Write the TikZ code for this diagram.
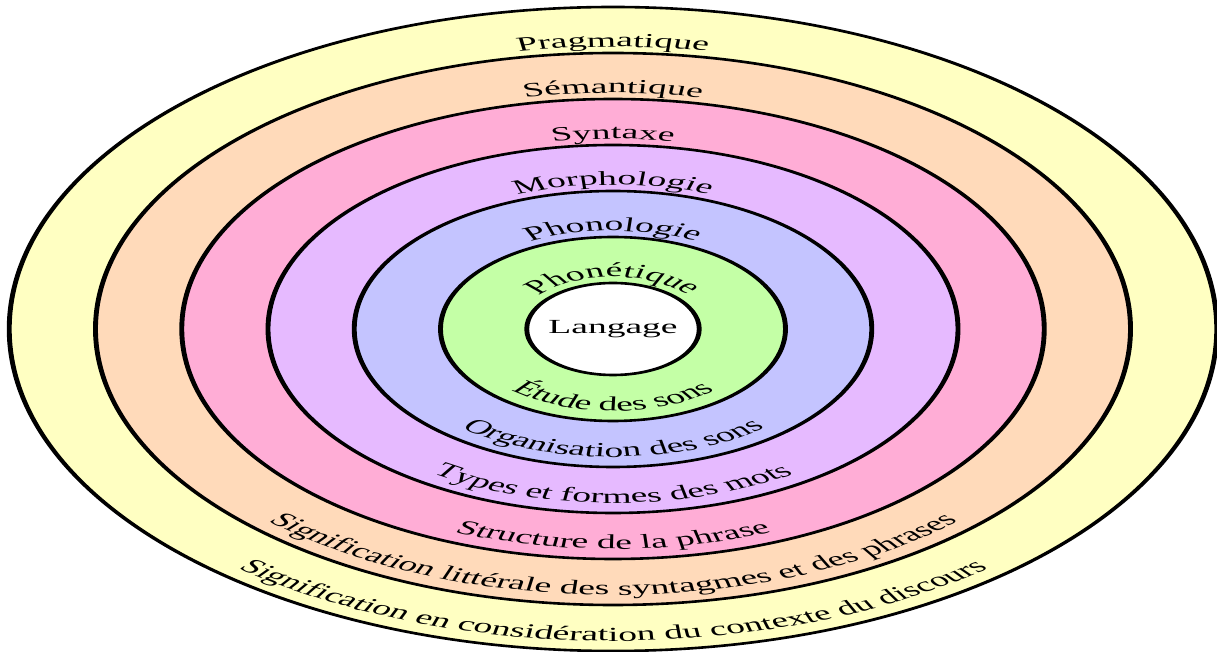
\documentclass[tikz,border=0pt]{standalone}
\usepackage{fontspec}
\setmainfont{Liberation Serif}
\usetikzlibrary{decorations.text}

\definecolor{pragmcol}{RGB}{255,255,194}
\definecolor{semancol}{RGB}{255,218,186}
\definecolor{syntcol}{RGB}{255,173,214}
\definecolor{morphcol}{RGB}{230,186,255}
\definecolor{phonolcol}{RGB}{196,196,255}
\definecolor{phonetcol}{RGB}{196,255,166}
\newcommand{\ringfont}{\fontsize{20}{22}\selectfont}

\begin{document}
\begin{tikzpicture}[x=1pt, y=1pt]
		\tikzset{
			ring/.style={
				draw=black,
				line width=2.6pt
			},
			over/.style={
				decorate,
				decoration={
					text along path,
					text align=center,
					text={|\ringfont|#1}
				}
			},
			under/.style={
				decorate,
				decoration={
					text along path,
					text align=center,
					text={|\ringfont|#1}
				}
			}
		}

		\fill[white] (-613,-323) rectangle (604,329);
		\useasboundingbox (-613,-323) rectangle (604,329);

		\begin{scope}[transform canvas={xscale=1.875}]
		\draw[ring, fill=pragmcol] (0,0) circle[radius=322];
		\draw[ring, fill=semancol] (0,0) circle[radius=276];
		\draw[ring, fill=syntcol] (0,0) circle[radius=230];
		\draw[ring, fill=morphcol] (0,0) circle[radius=184];
		\draw[ring, fill=phonolcol] (0,0) circle[radius=138];
		\draw[ring, fill=phonetcol] (0,0) circle[radius=92];
		\draw[ring, fill=white] (0,0) circle[radius=46];

		\node[inner sep=0pt] (langage) at (0,0)
			{\ringfont Langage};

		\path[over=Pragmatique] (180:282) arc[start angle=180, end angle=0, radius=282];
		\path[over=Sémantique] (180:236) arc[start angle=180, end angle=0, radius=236];
		\path[over=Syntaxe] (180:190) arc[start angle=180, end angle=0, radius=190];
		\path[over=Morphologie] (180:144) arc[start angle=180, end angle=0, radius=144];
		\path[over=Phonologie] (180:98) arc[start angle=180, end angle=0, radius=98];
		\path[over=Phonétique] (180:52) arc[start angle=180, end angle=0, radius=52];

		\path[under=Étude des sons] (180:82) arc[start angle=180, end angle=360, radius=82];
		\path[under=Organisation des sons] (180:128) arc[start angle=180, end angle=360, radius=128];
		\path[under=Types et formes des mots] (180:174) arc[start angle=180, end angle=360, radius=174];
		\path[under=Structure de la phrase] (180:220) arc[start angle=180, end angle=360, radius=220];
		\path[under=Signification littérale des syntagmes et des phrases] (180:266) arc[start angle=180, end angle=360, radius=266];
		\path[under=Signification en considération du contexte du discours] (180:312) arc[start angle=180, end angle=360, radius=312];
		\end{scope}

	\end{tikzpicture}
\end{document}
